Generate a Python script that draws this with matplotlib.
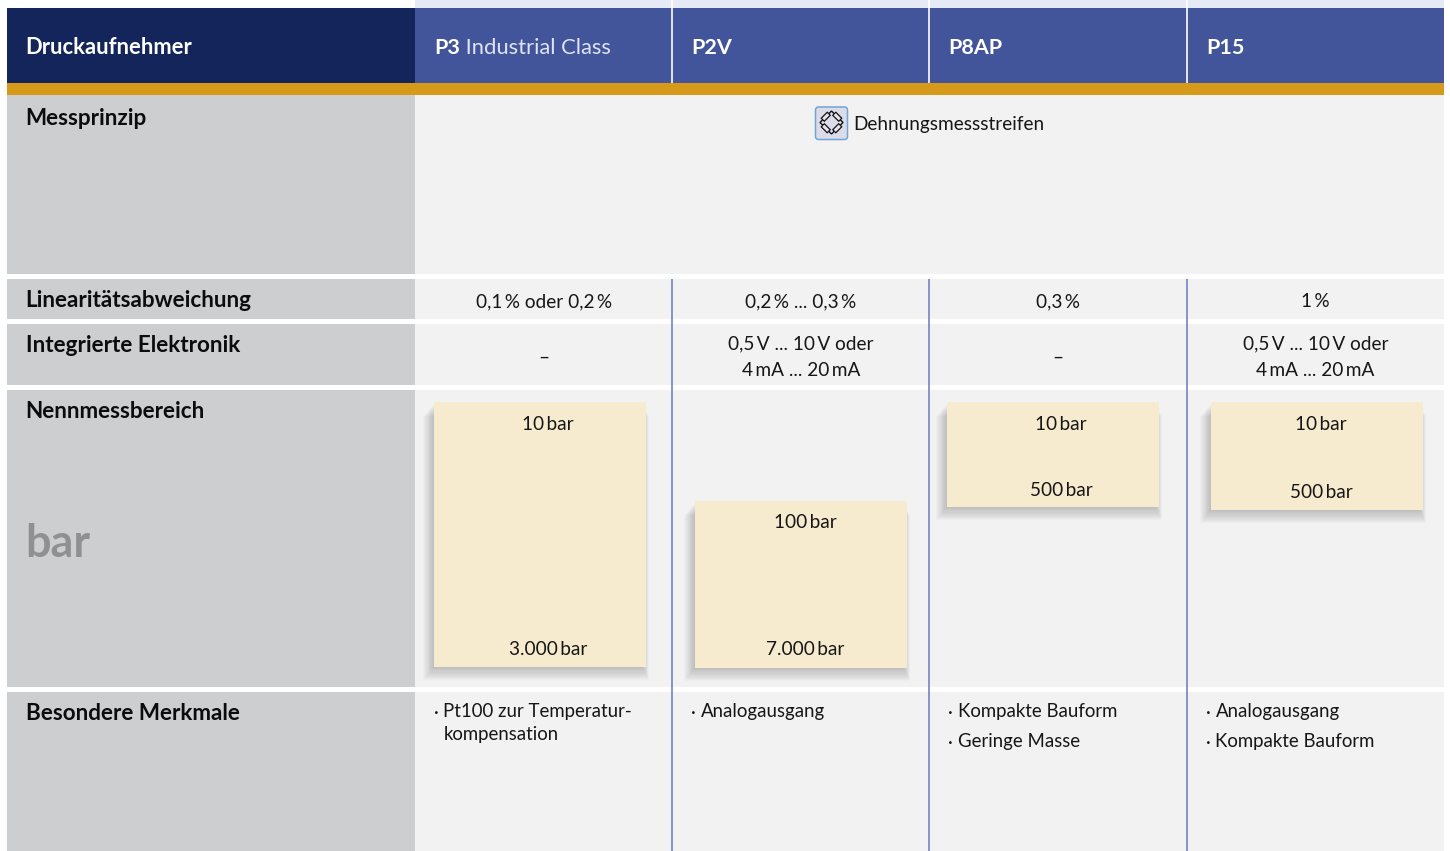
import matplotlib
matplotlib.use("Agg")
import matplotlib.pyplot as plt
from matplotlib.patches import Rectangle, FancyBboxPatch, Polygon

plt.rcParams['font.family'] = ['Lato', 'DejaVu Sans']

W, H = 1450, 851

# table content
title = "Druckaufnehmer"
sensors = ["P3", "P2V", "P8AP", "P15"]
sensor_suffix = [" Industrial Class", "", "", ""]
row_names = ["Messprinzip", "Linearitätsabweichung", "Integrierte Elektronik",
             "Nennmessbereich", "Besondere Merkmale"]
principle = "Dehnungsmessstreifen"
linearity = ["0,1\u2009% oder 0,2\u2009%", "0,2\u2009% ... 0,3\u2009%", "0,3\u2009%", "1\u2009%"]
electronics = ["–", "0,5\u2009V ... 10\u2009V oder\n4\u2009mA ... 20\u2009mA", "–",
               "0,5\u2009V ... 10\u2009V oder\n4\u2009mA ... 20\u2009mA"]
range_low = ["10\u2009bar", "100\u2009bar", "10\u2009bar", "10\u2009bar"]
range_high = ["3.000\u2009bar", "7.000\u2009bar", "500\u2009bar", "500\u2009bar"]
unit = "bar"
features = [["Pt100 zur Temperatur-\nkompensation"], ["Analogausgang"],
            ["Kompakte Bauform", "Geringe Masse"], ["Analogausgang", "Kompakte Bauform"]]

# layout in pixels
col_x = [415, 672.5, 929.5, 1187, 1444]
row_top = [95, 279, 324, 390, 692]
row_bot = [274, 319, 385, 687, 851]
box_x = [434, 695, 947, 1211]
box_top = [402, 501, 402, 402]
box_bot = [667, 668, 507, 510]
box_label_x = [548, 805, 1061, 1321]
low_y = [424, 522, 424, 424]
high_y = [649.5, 649.5, 490, 492.5]
feature_gap = 30

NAVY, BLUE, GOLD = "#13255a", "#42559b", "#d6991a"
GREY, PALE, CREAM = "#cdced0", "#f2f2f2", "#f6ebce"
LINE, INK = "#6a78c4", "#161616"

fig = plt.figure(figsize=(W / 100, H / 100), dpi=100)
ax = fig.add_axes([0, 0, 1, 1])
ax.set_xlim(0, W)
ax.set_ylim(H, 0)
ax.axis("off")


def rect(x0, y0, x1, y1, color, **kw):
    ax.add_patch(Rectangle((x0, y0), x1 - x0, y1 - y0, facecolor=color, edgecolor="none", **kw))


def label(x, y, s, px=20, **kw):
    kw.setdefault("color", INK)
    kw.setdefault("va", "center")
    ax.text(x, y, s, fontsize=px * 0.72, **kw)


# header
rect(415, 0, 1444, 8, "#e6eaf5")
rect(7, 8, 415, 83, NAVY)
rect(415, 8, 1444, 83, BLUE)
rect(7, 83, 1444, 95, GOLD)
for x in col_x[1:4]:
    ax.plot([x, x], [0, 83], color="white", lw=1.2, solid_capstyle="butt")
label(25.5, 48, title, px=22, color="white", weight="bold")
for i in range(4):
    x = col_x[i] + 19
    t = ax.text(x, 48, sensors[i], fontsize=21.5 * 0.72, color="white", weight="bold", va="center")
    if sensor_suffix[i]:
        ax.annotate(sensor_suffix[i], xy=(1, 0), xycoords=t, va="bottom", fontsize=22 * 0.72,
                    color="#dfe3f2")

# rows
for top, bot in zip(row_top, row_bot):
    rect(7, top, 415, bot, GREY)
    rect(415, top, 1444, bot, PALE)
name_y = [118.5, 300.5, 345.5, 411.5, 713.5]
name_x = [25.5, 25.5, 26, 25.5, 26]
for x, y, name in zip(name_x, name_y, row_names):
    label(x, y, name, px=22.5, color="#0c0c0c", weight="bold")
label(25.5, 544, unit, px=45, color="#8f9094", weight="bold")

for x in col_x[1:4]:
    ax.plot([x, x], [279, 851], color=LINE, lw=1.1, solid_capstyle="butt", zorder=3)

# strain gauge icon
ax.add_patch(FancyBboxPatch((815.5, 107), 32, 32.5, boxstyle="round,pad=0,rounding_size=3",
                            facecolor="#dcdce8", edgecolor="#6fa5d8", lw=1.1))
ax.add_patch(Polygon([(831.5, 111), (843, 122.5), (831.5, 134), (820, 122.5)], closed=True,
                     fill=False, edgecolor="#111111", lw=1.0))
for sx, sy in [(1, -1), (-1, -1), (1, 1), (-1, 1)]:
    cx, cy = 831.5 + sx * 5.75, 122.5 + sy * 5.75
    # resistor body runs along the diamond edge
    dx, dy = (sx * -1 * sy) * 3.4, 3.4
    ax.plot([cx - dx, cx + dx], [cy - dy, cy + dy], color="#111111", lw=4.0, solid_capstyle="butt")
    ax.plot([cx - dx * 0.75, cx + dx * 0.75], [cy - dy * 0.75, cy + dy * 0.75], color="#e4e4ee", lw=2.2,
            solid_capstyle="butt")
label(853, 124.5, principle, px=19)

# text columns
for i in range(4):
    c = (col_x[i] + col_x[i + 1]) / 2
    label(c, 301.5, linearity[i], px=19, ha="center")
    label(c, 357, electronics[i], px=19, ha="center", linespacing=1.65)

    # range boxes with soft shadow, offset to the lower left
    x0, x1 = box_x[i], box_x[i] + 212
    for g in range(1, 13):
        rect(x0 - g * 0.9, box_top[i] + 2 + g, x1 - 3 + g * 0.5, box_bot[i] + g * 1.1, "#555555",
             alpha=0.026, zorder=4)
    rect(x0, box_top[i], x1, box_bot[i], CREAM, zorder=5)
    label(box_label_x[i], low_y[i], range_low[i], px=19, ha="center", zorder=6)
    label(box_label_x[i], high_y[i], range_high[i], px=19, ha="center", zorder=6)

    # feature lists
    fx = col_x[i] + 19
    for j, f in enumerate(features[i]):
        y = 703 + j * feature_gap
        label(fx, y + 9, "·", px=18.7, ha="left")
        ax.text(fx + 9.5, y, f, fontsize=18.7 * 0.72, color=INK, va="top", linespacing=1.4)

fig.savefig("out.png", dpi=100, facecolor="white")
